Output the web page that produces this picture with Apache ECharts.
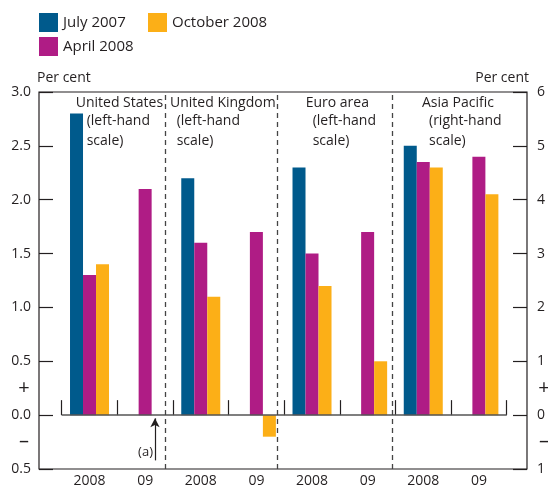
<!DOCTYPE html>
<html>
<head>
<meta charset="utf-8">
<script src="https://cdn.jsdelivr.net/npm/echarts@6/dist/echarts.min.js"></script>
<style>
  html, body { margin: 0; padding: 0; background: #fff; }
  #chart { width: 548px; height: 489px; }
</style>
</head>
<body>
<div id="chart"></div>
<script>
// categories: two per region
var categories = ["2008", "09", "2008", "09", "2008", "09", "2008", "09"];
// true where the value is read on the right-hand scale (Asia Pacific)
var rightHand = [false, false, false, false, false, false, true, true];

// per cent
var july2007 = [2.8, null, 2.2, null, 2.3, null, 5.0, null];
var april2008 = [1.3, 2.1, 1.6, 1.7, 1.5, 1.7, 4.7, 4.8];
var october2008 = [1.4, null, 1.1, -0.2, 1.2, 0.5, 4.6, 4.1];

var leftTicks = { min: -0.5, max: 3.0, interval: 0.5 };
var rightTicks = { min: -1, max: 6, interval: 1 };

var regionTitles = ["United States", "United Kingdom", "Euro area", "Asia Pacific"];
var regionNotes = ["(left-hand\nscale)", "(left-hand\nscale)", "(left-hand\nscale)", "(right-hand\nscale)"];

var colors = ["#005A8C", "#AF1C85", "#FCAF17"];
var font = "'Open Sans', 'Noto Sans', sans-serif";
var textColor = "#231F20";

function pick(arr, right) {
  return arr.map(function (v, i) { return rightHand[i] === right ? v : null; });
}

var chart = echarts.init(document.getElementById("chart"));

var names = ["July 2007", "April 2008", "October 2008"];
var allData = [july2007, april2008, october2008];
var series = [];
// left-hand scale bars
allData.forEach(function (d, k) {
  series.push({
    name: names[k], type: "bar", xAxisIndex: 1, yAxisIndex: 2,
    barWidth: 13, barGap: "0%", itemStyle: { color: colors[k] },
    data: pick(d, false),
  });
});
// right-hand scale bars
allData.forEach(function (d, k) {
  series.push({
    name: names[k], type: "bar", xAxisIndex: 2, yAxisIndex: 3,
    barWidth: 13, barGap: "0%", itemStyle: { color: colors[k] },
    data: pick(d, true),
  });
});
// zero line
series[0].markLine = {
  silent: true, symbol: "none", label: { show: false }, animation: false,
  lineStyle: { color: "#555", width: 1.5, type: "solid" },
  data: [{ yAxis: 0 }],
};
// dashed region separators and (a) arrow
series.push({
  type: "scatter", xAxisIndex: 3, yAxisIndex: 2, data: [], silent: true,
  markLine: {
    silent: true, symbol: "none", label: { show: false }, animation: false,
    lineStyle: { color: "#444", width: 1.3, type: [5, 4] },
    data: [{ xAxis: 1.87 }, { xAxis: 3.883 }, { xAxis: 5.95 }],
  },
});
series.push({
  type: "scatter", xAxisIndex: 3, yAxisIndex: 2, data: [], silent: true,
  markLine: {
    silent: true, symbol: ["none", "arrow"], symbolSize: [7, 9], animation: false,
    label: { show: false },
    lineStyle: { color: "#231F20", width: 1.2, type: "solid" },
    data: [[{ coord: [1.677, -0.42] }, { coord: [1.677, -0.03] }]],
  },
});

var regionX = [[75.7, 86.7], [170, 176.7], [305.7, 312.7], [422, 429]];
var graphics = [];
regionTitles.forEach(function (t, i) {
  graphics.push({ type: "text", x: regionX[i][0], y: 103, silent: true,
    style: { text: t, font: "14px " + font, fill: textColor, verticalAlign: "middle" } });
  graphics.push({ type: "text", x: regionX[i][1], y: 111, silent: true,
    style: { text: regionNotes[i], font: "14px " + font, fill: textColor, lineHeight: 20, verticalAlign: "top" } });
});
graphics.push({ type: "text", x: 153, y: 452, silent: true,
  style: { text: "(a)", font: "13px " + font, fill: textColor, align: "right", verticalAlign: "middle" } });
[[24, 388, "+"], [24, 441, "–"], [544, 388, "+"], [544, 441, "–"]].forEach(function (s) {
  graphics.push({ type: "text", x: s[0], y: s[1], silent: true,
    style: { text: s[2], font: "20px " + font, fill: textColor, align: "center", verticalAlign: "middle" } });
});

var labelStyle = { color: textColor, fontFamily: font, fontSize: 14 };

var option = {
  animation: false,
  textStyle: { fontFamily: font },
  legend: [
    { orient: "vertical", left: 39, top: 13, padding: 0, itemGap: 5, itemWidth: 19, itemHeight: 19,
      icon: "rect", data: ["July 2007", "April 2008"], selectedMode: false,
      textStyle: { color: textColor, fontFamily: font, fontSize: 15 } },
    { orient: "vertical", left: 148, top: 13, padding: 0, itemGap: 5, itemWidth: 19, itemHeight: 19,
      icon: "rect", data: ["October 2008"], selectedMode: false,
      textStyle: { color: textColor, fontFamily: font, fontSize: 15 } },
  ],
  grid: [
    { left: 39, right: 19, top: 92, bottom: 20, show: true, borderColor: "#231F20", borderWidth: 1.2 },
    { left: 61.7, right: 41.3, top: 92, bottom: 20 },
  ],
  xAxis: [
    { gridIndex: 0, type: "value", min: 0, max: 1, show: false },
    { gridIndex: 1, type: "category", data: categories, position: "bottom",
      axisLine: { show: false },
      axisTick: { show: true, inside: true, length: 15, lineStyle: { color: "#231F20", width: 1.2 } },
      axisLabel: Object.assign({ margin: 5 }, labelStyle) },
    { gridIndex: 1, type: "category", data: categories, show: false },
    { gridIndex: 1, type: "value", min: 0, max: 8, show: false },
  ],
  yAxis: [
    { gridIndex: 0, type: "value", position: "left", min: leftTicks.min, max: leftTicks.max, interval: leftTicks.interval,
      name: "Per cent", nameLocation: "end", nameGap: 7,
      nameTextStyle: { color: textColor, fontFamily: font, fontSize: 14, align: "left", padding: [0, 0, 0, -2] },
      axisLine: { show: false }, splitLine: { show: false },
      axisTick: { show: true, inside: true, length: 14, lineStyle: { color: "#231F20", width: 1.2 } },
      axisLabel: Object.assign({ margin: 8, formatter: function (v) { return Math.abs(v).toFixed(1); } }, labelStyle) },
    { gridIndex: 0, type: "value", position: "right", min: rightTicks.min, max: rightTicks.max, interval: rightTicks.interval,
      name: "Per cent", nameLocation: "end", nameGap: 7,
      nameTextStyle: { color: textColor, fontFamily: font, fontSize: 14, align: "right", padding: [0, -2, 0, 0] },
      axisLine: { show: false }, splitLine: { show: false },
      axisTick: { show: true, inside: true, length: 14, lineStyle: { color: "#231F20", width: 1.2 } },
      axisLabel: Object.assign({ margin: 10, formatter: function (v) { return String(Math.abs(v)); } }, labelStyle) },
    { gridIndex: 1, type: "value", min: leftTicks.min, max: leftTicks.max, show: false },
    { gridIndex: 1, type: "value", min: rightTicks.min, max: rightTicks.max, show: false },
  ],
  graphic: graphics,
  series: series,
};
chart.setOption(option);
</script>
</body>
</html>
